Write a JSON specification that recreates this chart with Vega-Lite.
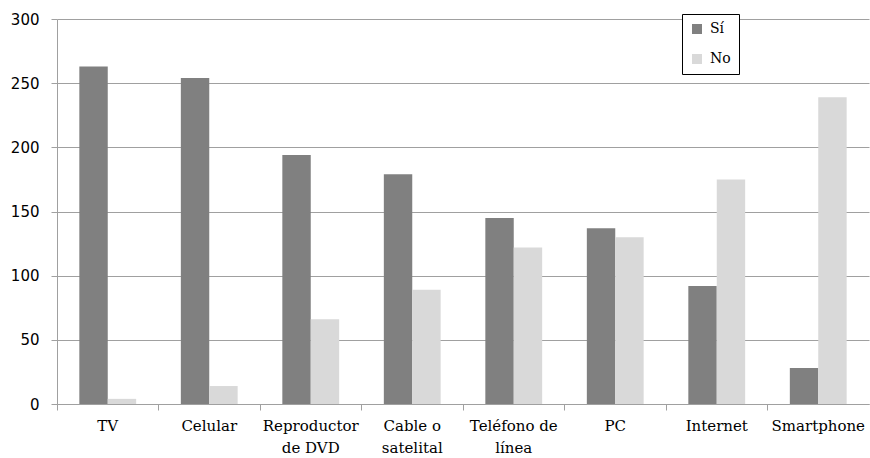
{
  "$schema": "https://vega.github.io/schema/vega-lite/v6.json",
  "autosize": {"type": "none"},
  "width": 812,
  "height": 385,
  "padding": {"left": 57, "top": 19, "right": 1, "bottom": 54},
  "background": "white",
  "data": {
    "values": [
      {"cat": "TV", "serie": "Sí", "valor": 263},
      {"cat": "TV", "serie": "No", "valor": 4},
      {"cat": "Celular", "serie": "Sí", "valor": 254},
      {"cat": "Celular", "serie": "No", "valor": 14},
      {"cat": "Reproductor de DVD", "serie": "Sí", "valor": 194},
      {"cat": "Reproductor de DVD", "serie": "No", "valor": 66},
      {"cat": "Cable o satelital", "serie": "Sí", "valor": 179},
      {"cat": "Cable o satelital", "serie": "No", "valor": 89},
      {"cat": "Teléfono de línea", "serie": "Sí", "valor": 145},
      {"cat": "Teléfono de línea", "serie": "No", "valor": 122},
      {"cat": "PC", "serie": "Sí", "valor": 137},
      {"cat": "PC", "serie": "No", "valor": 130},
      {"cat": "Internet", "serie": "Sí", "valor": 92},
      {"cat": "Internet", "serie": "No", "valor": 175},
      {"cat": "Smartphone", "serie": "Sí", "valor": 28},
      {"cat": "Smartphone", "serie": "No", "valor": 239}
    ]
  },
  "config": {
    "view": {"stroke": null}
  },
  "mark": {"type": "bar"},
  "encoding": {
    "x": {
      "field": "cat",
      "type": "nominal",
      "sort": null,
      "scale": {"paddingInner": 0, "paddingOuter": 0},
      "axis": {
        "title": null,
        "labelAngle": 0,
        "bandPosition": 0,
        "labelAlign": "center",
        "labelBaseline": "top",
        "labelFont": "DejaVu Serif",
        "labelFontSize": 15,
        "labelColor": "#000000",
        "labelPadding": 8,
        "labelLineHeight": 22,
        "labelExpr": "datum.label == 'Reproductor de DVD' ? ['Reproductor', 'de DVD'] : datum.label == 'Cable o satelital' ? ['Cable o', 'satelital'] : datum.label == 'Teléfono de línea' ? ['Teléfono de', 'línea'] : datum.label",
        "domainColor": "#a0a0a0",
        "domainWidth": 1,
        "tickColor": "#a0a0a0",
        "tickSize": 6,
        "ticks": true,
        "grid": false
      }
    },
    "xOffset": {
      "field": "serie",
      "type": "nominal",
      "sort": ["Sí", "No"],
      "scale": {"paddingInner": 0, "paddingOuter": 0.786}
    },
    "y": {
      "field": "valor",
      "type": "quantitative",
      "scale": {"domain": [0, 300], "nice": false},
      "axis": {
        "title": null,
        "values": [0, 50, 100, 150, 200, 250, 300],
        "labelFont": "DejaVu Sans",
        "labelFontSize": 15,
        "labelColor": "#000000",
        "labelPadding": 12,
        "tickSize": 6,
        "tickColor": "#a0a0a0",
        "domainColor": "#a0a0a0",
        "grid": true,
        "gridColor": "#a0a0a0",
        "gridWidth": 1
      }
    },
    "color": {
      "field": "serie",
      "type": "nominal",
      "sort": ["Sí", "No"],
      "scale": {"domain": ["Sí", "No"], "range": ["#808080", "#d9d9d9"]},
      "legend": {
        "title": null,
        "orient": "none",
        "legendX": 625,
        "legendY": -5,
        "strokeColor": "#000000",
        "fillColor": "#ffffff",
        "padding": 8,
        "symbolType": "square",
        "symbolSize": 100,
        "symbolStrokeWidth": 0,
        "rowPadding": 16,
        "labelFont": "DejaVu Serif",
        "labelFontSize": 14,
        "labelColor": "#000000",
        "labelOffset": 6,
        "offset": 0
      }
    }
  }
}
